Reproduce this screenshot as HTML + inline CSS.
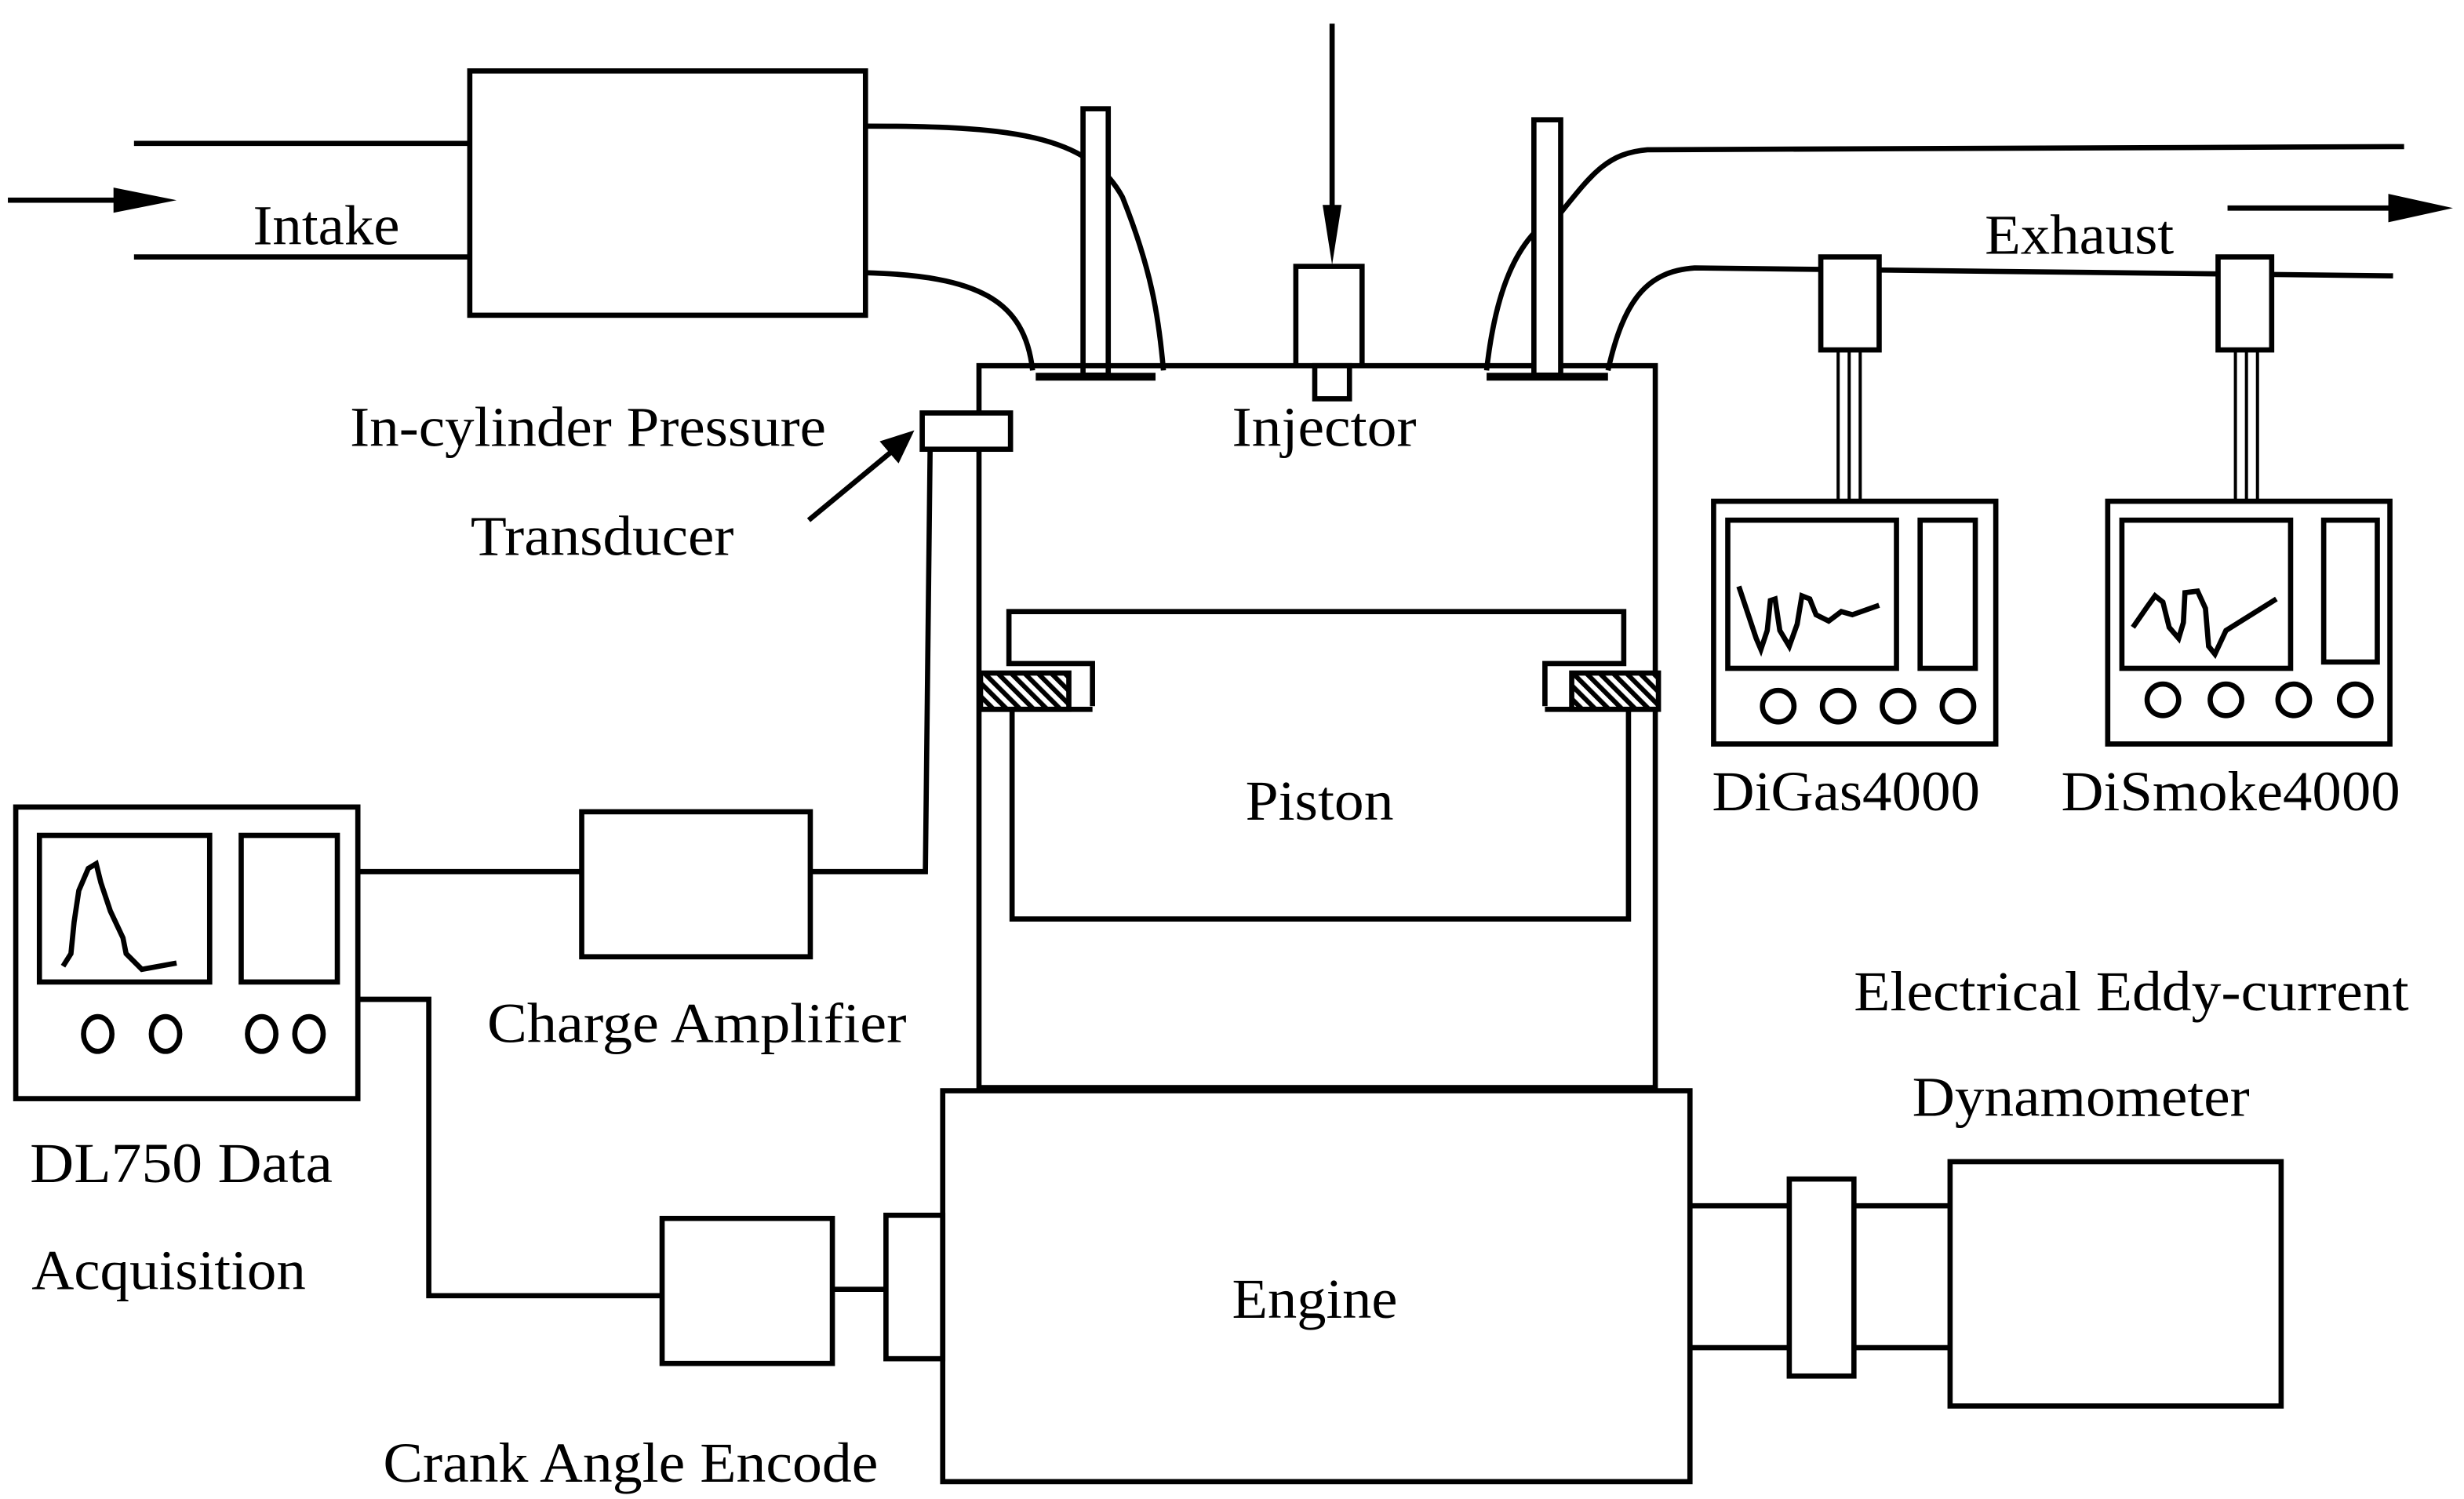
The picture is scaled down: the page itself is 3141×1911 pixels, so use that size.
<!DOCTYPE html>
<html><head><meta charset="utf-8"><style>
html,body{margin:0;padding:0;background:#fff;}
svg{display:block;}
text{font-family:"Liberation Serif",serif;font-size:36px;fill:#000;text-anchor:middle;}
</style></head><body>
<svg width="3141" height="1911" viewBox="0 0 1563 951" preserveAspectRatio="none" xmlns="http://www.w3.org/2000/svg">
<defs>
<pattern id="h" width="6" height="6" patternUnits="userSpaceOnUse" patternTransform="rotate(-45)">
<rect width="6" height="6" fill="#fff"/><rect width="3" height="6" fill="#000"/></pattern>
</defs>
<g fill="none" stroke="#000" stroke-width="3.3">
<path d="M5,127 H80"/>
<polygon points="72,119 112,127 72,135" fill="#000" stroke="none"/>
<line x1="85" y1="91" x2="298" y2="91"/>
<line x1="85" y1="163" x2="298" y2="163"/>
<rect x="298" y="45" width="251" height="155"/>
<path d="M549,80 C640,80 690,85 712,125 C730,170 735,200 738,235"/>
<path d="M549,173 C620,175 650,190 655,235"/>
<rect x="687" y="69" width="16" height="169" fill="#fff"/>
<line x1="657" y1="239" x2="733" y2="239" stroke-width="5"/>
<rect x="621" y="232" width="429" height="458"/>
<line x1="845" y1="15" x2="845" y2="140"/>
<polygon points="839,130 851,130 845,168" fill="#000" stroke="none"/>
<rect x="822" y="169" width="42" height="63" fill="#fff"/>
<rect x="834" y="232" width="22" height="21" fill="#fff"/>
<path d="M943,235 C948,190 960,150 990,135 C1010,110 1020,97 1045,95 L1525,93"/>
<path d="M1020,235 C1030,190 1045,172 1075,170 L1518,175"/>
<rect x="973" y="76" width="17" height="162" fill="#fff"/>
<line x1="943" y1="239" x2="1020" y2="239" stroke-width="5"/>
<line x1="1413" y1="132" x2="1520" y2="132"/>
<polygon points="1515,123 1556,132 1515,141" fill="#000" stroke="none"/>
<rect x="1155" y="163" width="37" height="59" fill="#fff"/>
<line x1="1166" y1="222" x2="1166" y2="318" stroke-width="2"/>
<line x1="1173" y1="222" x2="1173" y2="318" stroke-width="2"/>
<line x1="1180" y1="222" x2="1180" y2="318" stroke-width="2"/>
<rect x="1087" y="318" width="179" height="154"/>
<rect x="1096" y="330" width="107" height="94"/>
<rect x="1218" y="330" width="35" height="94"/>
<circle cx="1128" cy="448" r="10"/><circle cx="1166" cy="448" r="10"/><circle cx="1204" cy="448" r="10"/><circle cx="1242" cy="448" r="10"/>
<path d="M1103,372 L1114,405 L1117,412 L1121,400 L1123,381 L1126,380 L1129,400 L1135,410 L1140,396 L1143,378 L1148,380 L1152,390 L1160,394 L1168,388 L1175,390 L1192,384"/>
<rect x="1407" y="163" width="34" height="59" fill="#fff"/>
<line x1="1418" y1="222" x2="1418" y2="318" stroke-width="2"/>
<line x1="1425" y1="222" x2="1425" y2="318" stroke-width="2"/>
<line x1="1432" y1="222" x2="1432" y2="318" stroke-width="2"/>
<rect x="1337" y="318" width="179" height="154"/>
<rect x="1346" y="330" width="107" height="94"/>
<rect x="1474" y="330" width="34" height="90"/>
<circle cx="1372" cy="444" r="10"/><circle cx="1412" cy="444" r="10"/><circle cx="1455" cy="444" r="10"/><circle cx="1494" cy="444" r="10"/>
<path d="M1353,398 L1362,385 L1367,378 L1372,382 L1376,398 L1382,405 L1385,395 L1386,376 L1394,375 L1399,386 L1401,410 L1405,415 L1412,400 L1428,390 L1444,380"/>
<rect x="585" y="262" width="56" height="23" fill="#fff"/>
<polyline points="590,285 587,553 514,553"/>
<line x1="513" y1="330" x2="565" y2="287"/>
<polygon points="558,280 580,273 570,294" fill="#000" stroke="none"/>
<polyline points="693,448 693,421 640,421 640,388 1030,388 1030,421 980,421 980,448"/>
<rect x="622" y="427" width="56" height="23" fill="url(#h)"/>
<rect x="997" y="427" width="55" height="23" fill="url(#h)"/>
<line x1="622" y1="450" x2="693" y2="450"/>
<line x1="980" y1="450" x2="1052" y2="450"/>
<polyline points="642,450 642,583 1033,583 1033,450"/>
<rect x="598" y="692" width="474" height="248" fill="#fff"/>
<rect x="562" y="771" width="36" height="91"/>
<rect x="420" y="773" width="108" height="92"/>
<line x1="528" y1="818" x2="562" y2="818"/>
<polyline points="228,634 272,634 272,822 420,822"/>
<rect x="369" y="515" width="145" height="92"/>
<line x1="228" y1="553" x2="369" y2="553"/>
<rect x="10" y="512" width="217" height="185"/>
<rect x="25" y="530" width="108" height="93"/>
<rect x="153" y="530" width="61" height="93"/>
<path d="M40,613 L45,605 L47,585 L50,565 L56,551 L61,548 L64,560 L70,578 L78,595 L80,605 L90,615 L112,611"/>
<ellipse cx="62" cy="656" rx="9" ry="11"/><ellipse cx="105" cy="656" rx="9" ry="11"/><ellipse cx="166" cy="656" rx="9" ry="11"/><ellipse cx="196" cy="656" rx="9" ry="11"/>
<line x1="1072" y1="765" x2="1135" y2="765"/><line x1="1072" y1="855" x2="1135" y2="855"/>
<rect x="1135" y="748" width="41" height="125"/>
<line x1="1176" y1="765" x2="1237" y2="765"/><line x1="1176" y1="855" x2="1237" y2="855"/>
<rect x="1237" y="737" width="210" height="155"/>
</g>
<g>
<text x="207" y="155" textLength="93" lengthAdjust="spacingAndGlyphs">Intake</text>
<text x="373" y="283" textLength="302" lengthAdjust="spacingAndGlyphs">In-cylinder Pressure</text>
<text x="382" y="352" textLength="167" lengthAdjust="spacingAndGlyphs">Transducer</text>
<text x="840" y="283" textLength="117" lengthAdjust="spacingAndGlyphs">Injector</text>
<text x="1319" y="161" textLength="120" lengthAdjust="spacingAndGlyphs">Exhaust</text>
<text x="1171" y="514" textLength="170" lengthAdjust="spacingAndGlyphs">DiGas4000</text>
<text x="1415" y="514" textLength="215" lengthAdjust="spacingAndGlyphs">DiSmoke4000</text>
<text x="837" y="520" textLength="94" lengthAdjust="spacingAndGlyphs">Piston</text>
<text x="442" y="661" textLength="266" lengthAdjust="spacingAndGlyphs">Charge Amplifier</text>
<text x="1352" y="641" textLength="352" lengthAdjust="spacingAndGlyphs">Electrical Eddy-current</text>
<text x="1320" y="708" textLength="214" lengthAdjust="spacingAndGlyphs">Dynamometer</text>
<text x="115" y="750" textLength="192" lengthAdjust="spacingAndGlyphs">DL750  Data</text>
<text x="107" y="818" textLength="174" lengthAdjust="spacingAndGlyphs">Acquisition</text>
<text x="834" y="836" textLength="105" lengthAdjust="spacingAndGlyphs">Engine</text>
<text x="400" y="940" textLength="314" lengthAdjust="spacingAndGlyphs">Crank Angle Encode</text>
</g>
</svg>
</body></html>
